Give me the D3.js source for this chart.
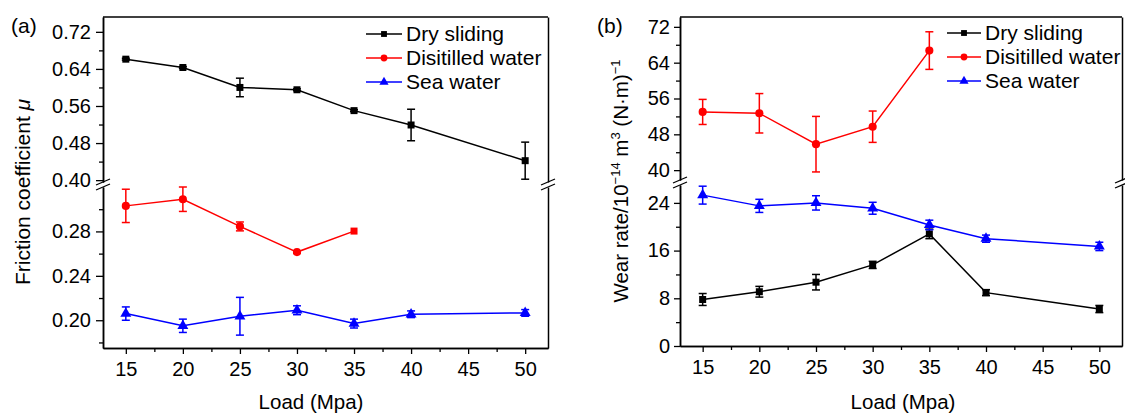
<!DOCTYPE html>
<html>
<meta charset="utf-8">
<script src="https://d3js.org/d3.v7.min.js"></script>
<style>
  body { margin: 0; background: #fff; }
  text { font-family: "Liberation Sans", Arial, sans-serif; fill: #000; }
</style>
<body>
<div id="chart"></div>
<script>
// loads (x values)
var loads = [15, 20, 25, 30, 35, 40, 50];
var waterLoads = [15, 20, 25, 30, 35];
var xTicks = [15, 20, 25, 30, 35, 40, 45, 50];
var xMinor = [17.5, 22.5, 27.5, 32.5, 37.5, 42.5, 47.5];
var seriesNames = ["Dry sliding", "Disitilled water", "Sea water"];

// (a) friction coefficient
var fricDry = [0.661, 0.643, 0.600, 0.595, 0.550, 0.519, 0.442];
var fricDryErr = [0.002, 0.002, 0.020, 0.002, 0.002, 0.034, 0.040];
var fricWater = [0.303, 0.309, 0.2845, 0.2614, 0.2803];
var fricWaterErr = [0.015, 0.011, 0.004, 0.001, 0];
var fricWaterMarks = ["circle", "circle", "circle", "circle", "square"];
var fricSea = [0.206, 0.195, 0.2036, 0.209, 0.197, 0.2054, 0.2066];
var fricSeaErr = [0.006, 0.006, 0.017, 0.004, 0.004, 0.003, 0.003];
var fricUpperTicks = [0.40, 0.48, 0.56, 0.64, 0.72];
var fricUpperMinor = [0.44, 0.52, 0.60, 0.68];
var fricLowerTicks = [0.20, 0.24, 0.28];
var fricLowerMinor = [0.18, 0.22, 0.26, 0.30];

// (b) wear rate
var wearDry = [7.8, 9.1, 10.7, 13.6, 18.8, 8.95, 6.2];
var wearDryErr = [1.0, 0.9, 1.3, 0.6, 0.8, 0.5, 0.6];
var wearWater = [53.0, 52.7, 45.8, 49.7, 66.7];
var wearWaterErr = [2.8, 4.4, 6.2, 3.5, 4.2];
var wearSea = [25.3, 23.5, 24.0, 23.1, 20.3, 18.0, 16.7];
var wearSeaErr = [1.5, 1.1, 1.2, 1.0, 0.8, 0.6, 0.7];
var wearUpperTicks = [40, 48, 56, 64, 72];
var wearUpperMinor = [44, 52, 60, 68];
var wearLowerTicks = [0, 8, 16, 24];
var wearLowerMinor = [4, 12, 20];

var colors = ["#000000", "#ff0000", "#0000ff"];
var legendMarks = ["square", "circle", "triangle"];

var svg = d3.select("#chart").append("svg")
    .attr("width", 1125)
    .attr("height", 415);

function symbolFor(name, k) {
    k = k || 1;
    if (name == "square") return d3.symbol().type(d3.symbolSquare).size(49 * k)();
    if (name == "triangle") return d3.symbol().type(d3.symbolTriangle).size(52 * k)();
    return d3.symbol().type(d3.symbolCircle).size(52 * k)();
}

function drawPanel(p) {
    var g = svg.append("g");
    var x = d3.scaleLinear().domain([13, 52]).range([p.left, p.right]);
    var yU = d3.scaleLinear().domain(p.upperDomain).range([p.breakTop, p.top]);
    var yL = d3.scaleLinear().domain(p.lowerDomain).range([p.bottom, p.breakBottom]);

    // frame top
    g.append("line").attr("x1", p.left).attr("x2", p.right).attr("y1", p.top).attr("y2", p.top)
        .attr("stroke", "#000").attr("stroke-width", 1.5);

    // left axis, upper + lower
    g.append("g").attr("transform", "translate(" + p.left + ",0)")
        .call(d3.axisLeft(yU).tickValues(p.upperTicks).tickSize(p.tickLen).tickPadding(p.pad)
            .tickSizeOuter(0).tickFormat(p.fmt));
    g.append("g").attr("transform", "translate(" + p.left + ",0)")
        .call(d3.axisLeft(yU).tickValues(p.upperMinor).tickSize(4).tickSizeOuter(0).tickFormat(""));
    g.append("g").attr("transform", "translate(" + p.left + ",0)")
        .call(d3.axisLeft(yL).tickValues(p.lowerTicks).tickSize(p.tickLen).tickPadding(p.pad)
            .tickSizeOuter(0).tickFormat(p.fmt));
    g.append("g").attr("transform", "translate(" + p.left + ",0)")
        .call(d3.axisLeft(yL).tickValues(p.lowerMinor).tickSize(4).tickSizeOuter(0).tickFormat(""));
    // right side, no ticks
    g.append("g").attr("transform", "translate(" + p.right + ",0)")
        .call(d3.axisRight(yU).tickValues([]).tickSizeOuter(0));
    g.append("g").attr("transform", "translate(" + p.right + ",0)")
        .call(d3.axisRight(yL).tickValues([]).tickSizeOuter(0));

    // bottom axis
    g.append("g").attr("transform", "translate(0," + p.bottom + ")")
        .call(d3.axisBottom(x).tickValues(xTicks).tickSize(6).tickPadding(8).tickSizeOuter(0));
    g.append("g").attr("transform", "translate(0," + p.bottom + ")")
        .call(d3.axisBottom(x).tickValues(xMinor).tickSize(4).tickSizeOuter(0).tickFormat(""));

    g.selectAll(".domain").attr("stroke", "#000").attr("stroke-width", 1.5);
    g.selectAll(".tick line").attr("stroke", "#000").attr("stroke-width", 1.3);
    g.selectAll(".tick text").style("font-size", "20px").style("font-family", '"Liberation Sans", Arial, sans-serif');

    // break marks
    var mid = (p.breakTop + p.breakBottom) / 2;
    [p.left, p.right].forEach(function (ax) {
        [-2.5, 2.5].forEach(function (off) {
            g.append("line")
                .attr("x1", ax - 7).attr("y1", mid + off + 3)
                .attr("x2", ax + 7).attr("y2", mid + off - 3)
                .attr("stroke", "#000").attr("stroke-width", 1.3);
        });
    });

    // series
    p.series.forEach(function (s) {
        var y = s.upper ? yU : yL;
        var pts = s.xs.map(function (d, i) { return { x: d, y: s.vals[i], e: s.errs[i], m: s.marks ? s.marks[i] : s.mark }; });
        g.append("path").datum(pts)
            .attr("fill", "none").attr("stroke", s.color).attr("stroke-width", 1.5)
            .attr("d", d3.line().x(function (d) { return x(d.x); }).y(function (d) { return y(d.y); }));
        var eb = g.append("g").attr("stroke", s.color).attr("stroke-width", 1.5);
        pts.forEach(function (d) {
            if (d.e <= 0) return;
            var cx = x(d.x), y1 = y(d.y + d.e), y2 = y(d.y - d.e);
            eb.append("line").attr("x1", cx).attr("x2", cx).attr("y1", y1).attr("y2", y2);
            eb.append("line").attr("x1", cx - 4).attr("x2", cx + 4).attr("y1", y1).attr("y2", y1);
            eb.append("line").attr("x1", cx - 4).attr("x2", cx + 4).attr("y1", y2).attr("y2", y2);
        });
        g.selectAll(null).data(pts).enter().append("path")
            .attr("transform", function (d) { return "translate(" + x(d.x) + "," + y(d.y) + ")"; })
            .attr("d", function (d) { return symbolFor(d.m); })
            .attr("fill", s.color);
    });

    // legend
    seriesNames.forEach(function (name, i) {
        var ly = p.legY + i * 24;
        g.append("line").attr("x1", p.legX).attr("x2", p.legX + p.legW).attr("y1", ly).attr("y2", ly)
            .attr("stroke", colors[i]).attr("stroke-width", 1.5);
        g.append("path").attr("transform", "translate(" + (p.legX + p.legW / 2) + "," + ly + ")")
            .attr("d", symbolFor(legendMarks[i], 0.7))
            .attr("fill", colors[i]);
        g.append("text").attr("x", p.legX + p.legW + 4).attr("y", ly).attr("dy", "0.35em")
            .style("font-size", "21px").text(name);
    });

    // panel label
    g.append("text").attr("x", p.labX).attr("y", 33).style("font-size", "21px").text(p.label);

    // x title
    g.append("text").attr("x", p.xTitleX).attr("y", 409).attr("text-anchor", "middle")
        .style("font-size", "20.5px").text("Load (Mpa)");
}

drawPanel({
    left: 103, right: 548, top: 17, bottom: 348, breakTop: 182, breakBottom: 187,
    upperDomain: [0.396, 0.752], lowerDomain: [0.175, 0.32],
    upperTicks: fricUpperTicks, upperMinor: fricUpperMinor,
    lowerTicks: fricLowerTicks, lowerMinor: fricLowerMinor,
    tickLen: 7, pad: 5, fmt: d3.format(".2f"),
    legX: 366, legW: 36, legY: 34,
    labX: 11, label: "(a)", xTitleX: 311,
    series: [
        { xs: loads, vals: fricDry, errs: fricDryErr, color: colors[0], mark: "square", upper: true },
        { xs: waterLoads, vals: fricWater, errs: fricWaterErr, color: colors[1], marks: fricWaterMarks, upper: false },
        { xs: loads, vals: fricSea, errs: fricSeaErr, color: colors[2], mark: "triangle", upper: false }
    ]
});

drawPanel({
    left: 680, right: 1122, top: 17, bottom: 346, breakTop: 180, breakBottom: 185,
    upperDomain: [37.8, 74.2], lowerDomain: [0, 27.0],
    upperTicks: wearUpperTicks, upperMinor: wearUpperMinor,
    lowerTicks: wearLowerTicks, lowerMinor: wearLowerMinor,
    tickLen: 6, pad: 4, fmt: d3.format("d"),
    legX: 947, legW: 34, legY: 33,
    labX: 597, label: "(b)", xTitleX: 903,
    series: [
        { xs: loads, vals: wearDry, errs: wearDryErr, color: colors[0], mark: "square", upper: false },
        { xs: waterLoads, vals: wearWater, errs: wearWaterErr, color: colors[1], mark: "circle", upper: true },
        { xs: loads, vals: wearSea, errs: wearSeaErr, color: colors[2], mark: "triangle", upper: false }
    ]
});

// y titles
var ta = svg.append("text").attr("transform", "translate(30,192) rotate(-90)")
    .attr("text-anchor", "middle").style("font-size", "21px");
ta.append("tspan").text("Friction coefficient ");
ta.append("tspan").style("font-style", "italic").text("μ");

var tb = svg.append("text").attr("transform", "translate(628,181) rotate(-90)")
    .attr("text-anchor", "middle").style("font-size", "20.5px");
tb.append("tspan").text("Wear rate/10");
tb.append("tspan").attr("dy", -8).style("font-size", "13px").text("−14");
tb.append("tspan").attr("dy", 8).text(" m");
tb.append("tspan").attr("dy", -8).style("font-size", "13px").text("3");
tb.append("tspan").attr("dy", 8).text(" (N·m)");
tb.append("tspan").attr("dy", -8).style("font-size", "13px").text("−1");
</script>
</body>
</html>
